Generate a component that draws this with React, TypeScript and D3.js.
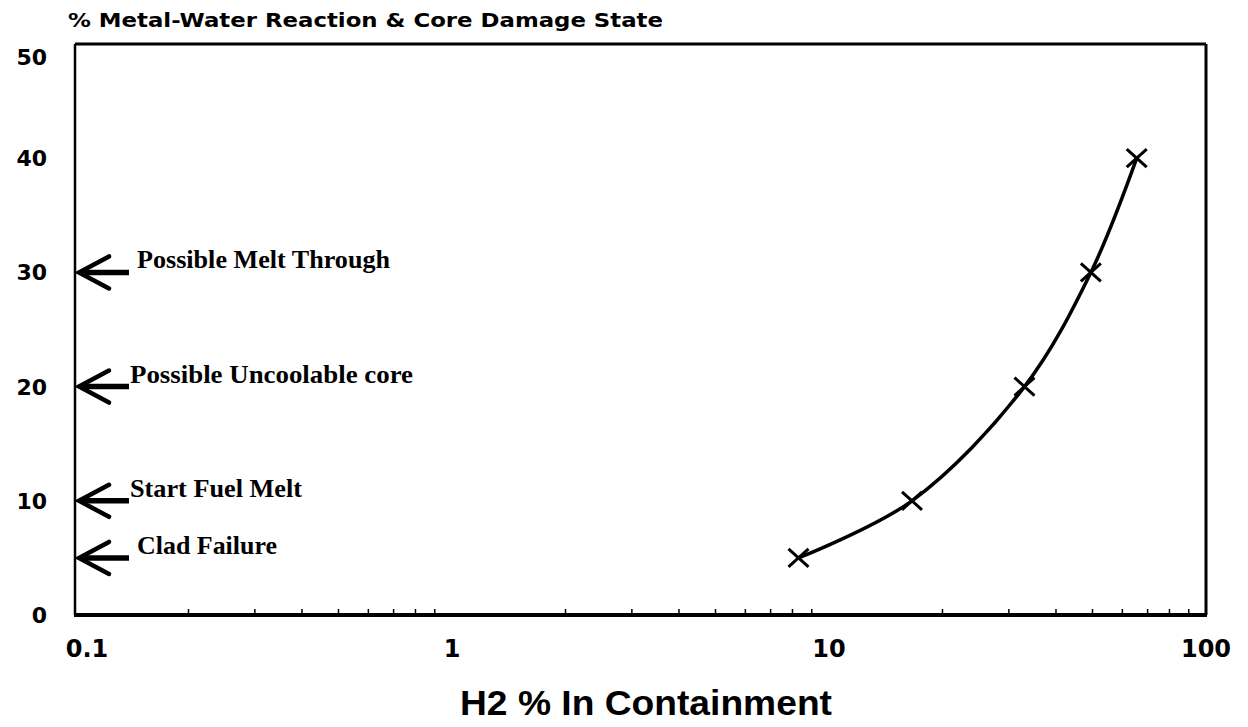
import React from "react";
import * as d3 from "d3";

const h2Percent = [8.3, 16.6, 33, 49.5, 65.5];
const metalWater = [5, 10, 20, 30, 40];
const xTicks = [0.1, 1, 10, 100];
const xTickLabels = ["0.1", "1", "10", "100"];
const yTicks = [0, 10, 20, 30, 40, 50];
const stateValues = [30, 20, 10, 5];
const stateLabels = ["Possible Melt Through", "Possible Uncoolable core", "Start Fuel Melt", "Clad Failure"];
const stateLabelWidths = [253, 283, 172, 140];
const stateLabelX = [137, 130, 130, 137];

const W = 1248, H = 727;
const L = 75, R = 1206, T = 44, B = 615;

export default function App() {
  const x = d3.scaleLog().domain([0.1, 100]).range([L, R]);
  const y = d3.scaleLinear().domain([0, 50]).range([B, T]);
  const pts: [number, number][] = h2Percent.map((v, i) => [x(v), y(metalWater[i])]);
  const line = d3.line().curve(d3.curveCatmullRom.alpha(0.5))(pts) || "";
  const minor: number[] = [];
  [0.1, 1, 10].forEach((d) => { for (let k = 2; k <= 9; k++) minor.push(d * k); });
  const sans = "'DejaVu Sans', sans-serif";
  const serif = "'Liberation Serif', 'Times New Roman', serif";
  return (
    <svg width={W} height={H} style={{ position: "absolute", left: 0, top: 0, background: "#fff" }}>
      <rect x={0} y={0} width={W} height={H} fill="#fff" />
      <text x={68} y={27} fontFamily={sans} fontWeight="bold" fontSize={19.5} textLength={595} lengthAdjust="spacingAndGlyphs">% Metal-Water Reaction &amp; Core Damage State</text>
      {/* frame */}
      <line x1={L} y1={T} x2={R} y2={T} stroke="#000" strokeWidth={3} />
      <line x1={R} y1={T} x2={R} y2={B} stroke="#000" strokeWidth={3} />
      <line x1={L} y1={T} x2={L} y2={B} stroke="#000" strokeWidth={2.5} />
      <line x1={L - 1} y1={B} x2={R + 1} y2={B} stroke="#000" strokeWidth={4} />
      {minor.map((m, i) => (
        <line key={i} x1={x(m)} x2={x(m)} y1={B} y2={B - 6} stroke="#000" strokeWidth={1.5} />
      ))}
      {/* y labels */}
      {yTicks.map((t) => (
        <text key={t} x={47} y={Math.max(y(t), 57)} dy="0.36em" textAnchor="end" fontFamily={sans} fontWeight="bold" fontSize={22}>{t}</text>
      ))}
      {/* x labels */}
      {xTicks.map((t, i) => (
        <text key={t} x={Math.min(Math.max(x(t), 87), 1213)} y={648} dy="0.36em" textAnchor="middle" fontFamily={sans} fontWeight="bold" fontSize={24}>{xTickLabels[i]}</text>
      ))}
      <text x={460} y={715} textAnchor="start" fontFamily="'Liberation Sans', Arial, sans-serif" fontWeight="bold" fontSize={35} textLength={372} lengthAdjust="spacingAndGlyphs">H2 % In Containment</text>
      {/* state arrows */}
      {stateValues.map((v, i) => {
        const yy = y(v);
        const tip = L + 4;
        return (
          <g key={v}>
            <line x1={tip + 4} y1={yy} x2={tip + 50} y2={yy} stroke="#000" strokeWidth={5.5} />
            <polyline points={`${tip + 30},${yy - 16} ${tip},${yy} ${tip + 30},${yy + 16}`} fill="none" stroke="#000" strokeWidth={4.5} strokeLinejoin="miter" strokeLinecap="round" />
            <text x={stateLabelX[i]} y={yy - 4} fontFamily={serif} fontWeight="bold" fontSize={25} textLength={stateLabelWidths[i]} lengthAdjust="spacingAndGlyphs">{stateLabels[i]}</text>
          </g>
        );
      })}
      {/* curve */}
      <path d={line} fill="none" stroke="#000" strokeWidth={3.5} />
      {pts.map(([px, py], i) => (
        <g key={i} stroke="#000" strokeWidth={3}>
          <line x1={px - 10} y1={py - 9} x2={px + 10} y2={py + 9} />
          <line x1={px - 10} y1={py + 9} x2={px + 10} y2={py - 9} />
        </g>
      ))}
    </svg>
  );
}
